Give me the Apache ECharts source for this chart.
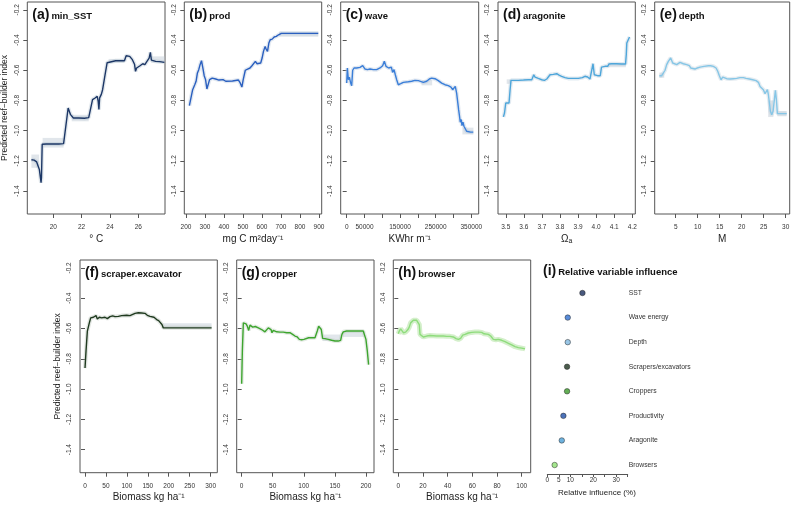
<!DOCTYPE html>
<html><head><meta charset="utf-8">
<script src="https://cdn.jsdelivr.net/npm/echarts@6/dist/echarts.min.js"></script>
<style>html,body{margin:0;padding:0;background:#fff}#c{width:793px;height:505px}</style>
</head><body><div id="c"></div>
<script>
// ---------------- DATA ----------------
const yTicks = [-1.4, -1.2, -1.0, -0.8, -0.6, -0.4, -0.2];

const sstTicks = [20, 22, 24, 26];
const prodTicks = [200, 300, 400, 500, 600, 700, 800, 900];
const waveTicks = [0, 50000, 100000, 150000, 200000, 250000, 300000, 350000];
const waveLabels = [0, 50000, 150000, 250000, 350000];
const aragTicks = [3.5, 3.6, 3.7, 3.8, 3.9, 4.0, 4.1, 4.2];
const depthTicks = [5, 10, 15, 20, 25, 30];
const scraperTicks = [0, 50, 100, 150, 200, 250, 300];
const cropperTicks = [0, 50, 100, 150, 200];
const browserTicks = [0, 20, 40, 60, 80, 100];
const influenceTicks = [0, 5, 10, 15, 20, 25, 30, 35];
const influenceLabels = [0, 5, 10, 20, 30];

const sstCurve = [[18.46,-1.193],[18.65,-1.195],[18.83,-1.207],[18.97,-1.213],[19.02,-1.257],[19.14,-1.345],[19.17,-1.31],[19.22,-1.09],[19.5,-1.088],[20.0,-1.088],[20.4,-1.088],[20.73,-1.086],[21.05,-0.85],[21.22,-0.894],[21.42,-0.916],[21.8,-0.916],[22.2,-0.918],[22.5,-0.914],[22.6,-0.905],[22.77,-0.795],[22.95,-0.784],[23.1,-0.773],[23.17,-0.806],[23.22,-0.86],[23.27,-0.783],[23.39,-0.76],[23.48,-0.729],[23.58,-0.718],[23.67,-0.62],[23.8,-0.55],[23.92,-0.537],[24.4,-0.537],[24.8,-0.537],[25.02,-0.537],[25.14,-0.504],[25.26,-0.493],[25.39,-0.508],[25.58,-0.53],[25.73,-0.56],[25.8,-0.607],[25.88,-0.585],[26.12,-0.57],[26.31,-0.557],[26.46,-0.563],[26.56,-0.548],[26.66,-0.548],[26.76,-0.52],[26.85,-0.482],[26.92,-0.533],[27.0,-0.537],[27.22,-0.541],[27.5,-0.543],[27.84,-0.548]];

const prodCurve = [[217.7,-0.834],[228,-0.823],[235,-0.729],[246,-0.696],[253,-0.673],[260,-0.618],[267,-0.596],[274,-0.563],[281.5,-0.537],[288.6,-0.585],[295.7,-0.636],[302.8,-0.662],[309.9,-0.724],[317,-0.711],[324,-0.662],[338,-0.652],[356,-0.658],[373.7,-0.665],[395,-0.662],[409,-0.673],[444.5,-0.671],[476,-0.665],[483.5,-0.68],[494,-0.711],[501,-0.662],[512,-0.6],[524,-0.592],[536.7,-0.585],[547,-0.57],[554,-0.557],[565,-0.541],[574,-0.557],[582.8,-0.563],[593,-0.552],[600.5,-0.519],[607.6,-0.475],[616.4,-0.442],[621.7,-0.46],[628.8,-0.475],[636,-0.42],[643,-0.398],[653.6,-0.394],[664,-0.38],[675,-0.376],[687,-0.365],[701.5,-0.356],[728,-0.356],[800,-0.356],[896,-0.356]];

const waveCurve = [[0,-0.685],[1900,-0.585],[4700,-0.663],[7500,-0.645],[11200,-0.685],[14000,-0.702],[16800,-0.6],[20600,-0.585],[28000,-0.585],[37400,-0.581],[45000,-0.57],[51500,-0.592],[58000,-0.596],[65500,-0.592],[74900,-0.596],[84200,-0.596],[93600,-0.585],[101000,-0.57],[105700,-0.541],[110400,-0.574],[114000,-0.57],[118000,-0.585],[121700,-0.596],[125400,-0.579],[129000,-0.614],[132900,-0.596],[136600,-0.63],[140400,-0.663],[145000,-0.696],[147900,-0.702],[151600,-0.689],[159100,-0.68],[173100,-0.676],[182500,-0.673],[191800,-0.667],[201200,-0.669],[215200,-0.68],[224600,-0.673],[232100,-0.658],[238600,-0.652],[248000,-0.656],[257300,-0.669],[266700,-0.685],[276000,-0.696],[285400,-0.702],[292900,-0.711],[297600,-0.729],[301300,-0.718],[305000,-0.707],[308800,-0.751],[311600,-0.806],[314400,-0.861],[316300,-0.894],[319100,-0.944],[321900,-0.927],[323800,-0.967],[326600,-0.944],[329400,-0.971],[332200,-0.982],[336900,-1.004],[341600,-1.01],[348100,-1.01],[355600,-1.01]];

const aragCurve = [[3.487,-0.909],[3.493,-0.883],[3.5,-0.817],[3.507,-0.817],[3.518,-0.817],[3.524,-0.729],[3.529,-0.667],[3.542,-0.667],[3.57,-0.667],[3.598,-0.665],[3.625,-0.663],[3.644,-0.663],[3.655,-0.63],[3.662,-0.645],[3.68,-0.654],[3.699,-0.663],[3.714,-0.667],[3.727,-0.658],[3.736,-0.645],[3.745,-0.63],[3.763,-0.627],[3.782,-0.623],[3.795,-0.632],[3.809,-0.64],[3.828,-0.649],[3.846,-0.654],[3.874,-0.654],[3.902,-0.654],[3.924,-0.649],[3.938,-0.64],[3.953,-0.645],[3.966,-0.658],[3.975,-0.663],[3.983,-0.557],[3.99,-0.63],[3.994,-0.636],[4.008,-0.636],[4.023,-0.636],[4.03,-0.579],[4.049,-0.574],[4.064,-0.574],[4.071,-0.559],[4.086,-0.557],[4.113,-0.557],[4.141,-0.559],[4.163,-0.559],[4.167,-0.497],[4.17,-0.42],[4.178,-0.409],[4.185,-0.38]];

const depthCurve = [[1.29,-0.636],[1.82,-0.636],[2.2,-0.636],[2.58,-0.6],[2.95,-0.563],[3.33,-0.541],[3.56,-0.541],[3.86,-0.519],[4.09,-0.53],[4.32,-0.552],[4.77,-0.552],[5.23,-0.563],[5.61,-0.574],[5.98,-0.548],[6.36,-0.548],[6.74,-0.557],[7.5,-0.563],[8.1,-0.57],[8.41,-0.585],[8.86,-0.596],[9.39,-0.592],[9.92,-0.585],[10.53,-0.579],[10.98,-0.585],[11.44,-0.574],[11.89,-0.579],[12.42,-0.57],[12.95,-0.57],[13.56,-0.574],[14.17,-0.585],[14.55,-0.607],[14.92,-0.636],[15.3,-0.663],[15.68,-0.645],[15.98,-0.658],[16.59,-0.656],[17.35,-0.658],[18.1,-0.656],[18.86,-0.654],[19.62,-0.649],[20.38,-0.649],[20.98,-0.654],[21.74,-0.658],[22.5,-0.663],[23.26,-0.669],[23.79,-0.68],[24.17,-0.707],[24.55,-0.711],[24.92,-0.729],[25.3,-0.755],[25.61,-0.745],[25.83,-0.729],[26.06,-0.762],[26.29,-0.817],[26.52,-0.872],[26.82,-0.894],[27.12,-0.872],[27.42,-0.795],[27.65,-0.733],[27.88,-0.795],[28.1,-0.887],[28.71,-0.887],[30.23,-0.887]];

const scraperCurve = [[0,-0.861],[2.4,-0.748],[5.6,-0.617],[8,-0.607],[10.3,-0.563],[13.5,-0.53],[16.7,-0.541],[19.9,-0.526],[23,-0.537],[26.3,-0.515],[29.4,-0.537],[34.2,-0.526],[39.8,-0.53],[47.7,-0.526],[53.3,-0.535],[59.7,-0.522],[66,-0.517],[71.6,-0.522],[79.6,-0.52],[87.5,-0.515],[99.5,-0.513],[107.4,-0.515],[111.4,-0.504],[119.4,-0.5],[127.3,-0.496],[135.3,-0.498],[143.2,-0.5],[148.8,-0.513],[155.2,-0.52],[159.2,-0.526],[164.7,-0.526],[171.1,-0.541],[175.9,-0.548],[180.6,-0.557],[183.8,-0.574],[187,-0.596],[195,-0.596],[250,-0.596],[302.4,-0.596]];

const cropperCurve = [[0,-0.965],[1.1,-0.748],[2.7,-0.563],[4.8,-0.557],[7,-0.57],[9.1,-0.585],[11.3,-0.613],[13.4,-0.578],[15.5,-0.574],[17.7,-0.591],[19.8,-0.578],[22,-0.587],[24.1,-0.585],[26.8,-0.596],[29.5,-0.6],[32.2,-0.607],[34.9,-0.611],[37.5,-0.622],[40.2,-0.617],[42.9,-0.596],[45,-0.585],[47.2,-0.607],[48.8,-0.628],[50.9,-0.613],[53.6,-0.617],[56.3,-0.622],[61.7,-0.624],[67,-0.624],[72.4,-0.628],[77.7,-0.628],[82,-0.639],[85.8,-0.65],[89.5,-0.656],[92.8,-0.672],[96.5,-0.674],[100.3,-0.672],[103.5,-0.665],[107.8,-0.661],[112.6,-0.661],[118,-0.661],[121.7,-0.617],[123.9,-0.585],[126,-0.578],[128.2,-0.607],[130.3,-0.665],[134,-0.667],[139.4,-0.672],[144.8,-0.678],[150.1,-0.683],[155.5,-0.683],[159.3,-0.678],[161.4,-0.639],[163.5,-0.622],[168.9,-0.617],[179.6,-0.617],[190.4,-0.617],[195.7,-0.617],[197.9,-0.622],[200,-0.672],[202.2,-0.748],[204.3,-0.839]];

const browserCurve = [[0,-0.635],[0.8,-0.617],[1.9,-0.602],[3,-0.607],[4.1,-0.628],[5.1,-0.639],[5.9,-0.624],[6.8,-0.628],[7.8,-0.607],[8.9,-0.591],[10,-0.563],[11.1,-0.552],[12.2,-0.546],[13.5,-0.548],[14.9,-0.546],[16.2,-0.552],[17,-0.574],[17.6,-0.639],[18.9,-0.65],[20.3,-0.656],[23,-0.65],[25.7,-0.646],[28.4,-0.648],[31.1,-0.65],[33.8,-0.65],[36.5,-0.65],[39.2,-0.652],[41.9,-0.652],[44.6,-0.656],[46.8,-0.667],[48.7,-0.672],[50.5,-0.665],[52.2,-0.644],[54.1,-0.639],[56.8,-0.63],[59.5,-0.626],[62.2,-0.624],[64.9,-0.624],[67.6,-0.626],[69.5,-0.635],[71.1,-0.63],[73,-0.639],[74.9,-0.65],[77,-0.672],[79.2,-0.674],[81.1,-0.672],[83.8,-0.678],[86.5,-0.687],[89.2,-0.698],[91.9,-0.709],[94.6,-0.72],[97.3,-0.726],[100,-0.73],[102.7,-0.735]];

// confidence bands: [xStart, xEnd, lower, upper]
const sstBands = [[18.46,19.0,-1.246,-1.158],[19.25,20.73,-1.112,-1.048],[21.3,22.5,-0.938,-0.895],[23.9,25.0,-0.55,-0.525],[26.9,27.84,-0.55,-0.508]];
const prodBands = [[690,896,-0.378,-0.343]];
const waveBands = [[210000,240000,-0.70,-0.665],[325000,356000,-1.025,-0.98]];
const aragBands = [[3.505,3.53,-0.69,-0.66],[4.065,4.165,-0.58,-0.555]];
const depthBands = [[1.29,2.4,-0.65,-0.615],[26.0,27.2,-0.91,-0.80],[28.1,30.2,-0.905,-0.87]];
const scraperBands = [[187,302.4,-0.596,-0.566]];
const cropperBands = [[130,160,-0.683,-0.64],[163,198,-0.656,-0.617]];
const browserBands = [];

const influenceNames = ['SST','Wave energy','Depth','Scrapers/excavators','Croppers','Productivity','Aragonite','Browsers'];
const influenceValues = [15.3, 8.9, 8.9, 8.6, 8.6, 7.0, 6.3, 3.2];

// ---------------- STYLE / LAYOUT ----------------
const dotColors = ['#1b2f5e','#2f6fd0','#7fb8e0','#1e3320','#3c9a2a','#1f4fa8','#4a9fd6','#8de070'];
const FONT = 'Liberation Sans, Arial, Helvetica, sans-serif';
const BOX = '#555';
const TXT = '#333';

const panels = [
  {letter:'(a)', title:'min_SST', curve:sstCurve, bands:sstBands, min:18.17, max:27.88, ticks:sstTicks, xName:'° C', color:'#1d3766', under:'rgba(170,185,200,0.35)', grid:{left:27.3, top:2, width:137.7, height:212}, yName:true},
  {letter:'(b)', title:'prod', curve:prodCurve, bands:prodBands, min:191, max:914, ticks:prodTicks, xName:'mg C m²day⁻¹', color:'#2a5fbf', under:'rgba(170,190,215,0.35)', grid:{left:184.3, top:2, width:137.4, height:212}},
  {letter:'(c)', title:'wave', curve:waveCurve, bands:waveBands, min:-16850, max:370800, ticks:waveTicks, labels:waveLabels, xName:'KWhr m⁻¹', color:'#3a7ed8', under:'rgba(170,190,215,0.35)', grid:{left:340.7, top:2, width:138, height:212}},
  {letter:'(d)', title:'aragonite', curve:aragCurve, bands:aragBands, min:3.457, max:4.217, ticks:aragTicks, fmt:v=>v.toFixed(1), xName:'Ωₐ', color:'#4ea6da', under:'rgba(170,195,215,0.35)', grid:{left:498, top:2, width:137.3, height:212}},
  {letter:'(e)', title:'depth', curve:depthCurve, bands:depthBands, min:0.23, max:30.9, ticks:depthTicks, xName:'M', color:'#86c6e6', under:'rgba(180,200,215,0.35)', grid:{left:654.7, top:2, width:135, height:212}},
  {letter:'(f)', title:'scraper.excavator', curve:scraperCurve, bands:scraperBands, min:-12, max:316, ticks:scraperTicks, xName:'Biomass kg ha⁻¹', color:'#1f3a1f', under:'rgba(170,180,170,0.35)', grid:{left:80, top:260, width:137.3, height:212.7}, yName:true},
  {letter:'(g)', title:'cropper', curve:cropperCurve, bands:cropperBands, min:-8, max:213, ticks:cropperTicks, xName:'Biomass kg ha⁻¹', color:'#3ea52f', under:'rgba(180,200,180,0.35)', grid:{left:236.7, top:260, width:137.3, height:212.7}},
  {letter:'(h)', title:'browser', curve:browserCurve, bands:browserBands, min:-4.05, max:107.3, ticks:browserTicks, xName:'Biomass kg ha⁻¹', color:'#8edc7c', under:'rgba(160,220,140,0.45)', underW:5, grid:{left:393.3, top:260, width:137.4, height:212.7}}
];

const grids = [], xAxes = [], yAxes = [], series = [], titles = [];

panels.forEach((p, i) => {
  grids.push(Object.assign({show:true, borderColor:BOX, borderWidth:1, backgroundColor:'transparent', containLabel:false, outerBoundsMode:'none'}, p.grid));
  xAxes.push({
    gridIndex:i, type:'value', min:p.min, max:p.max,
    axisLine:{show:false}, splitLine:{show:false},
    axisTick:{show:true, length:4, customValues:p.ticks, lineStyle:{color:BOX, width:1}},
    axisLabel:{show:true, customValues:p.labels || p.ticks, fontSize:6.5, color:TXT, margin:10, fontFamily:FONT,
      formatter: p.fmt || (v => String(v))},
    name:p.xName, nameLocation:'middle', nameGap:20,
    nameTextStyle:{fontSize:10, color:'#222', fontFamily:FONT}
  });
  yAxes.push({
    gridIndex:i, type:'value', min:-1.552, max:-0.148,
    axisLine:{show:false}, splitLine:{show:false},
    axisTick:{show:true, length:4, customValues:yTicks, lineStyle:{color:BOX, width:1}},
    axisLabel:{show:true, customValues:yTicks, rotate:90, fontSize:6.5, color:TXT, margin:7, fontFamily:FONT,
      formatter:v => v.toFixed(1)},
    name:p.yName ? 'Predicted reef\u2212builder index' : '', nameLocation:'middle', nameGap:18, nameRotate:90,
    nameTextStyle:{fontSize:8.5, color:'#222', fontFamily:FONT}
  });
  series.push({
    type:'custom', xAxisIndex:i, yAxisIndex:i, data:p.bands, silent:true, z:1,
    encode:{x:[0,1], y:[2,3]},
    renderItem:(params, api) => {
      const a = api.coord([api.value(0), api.value(3)]);
      const b = api.coord([api.value(1), api.value(2)]);
      return {type:'rect', shape:{x:a[0], y:Math.min(a[1],b[1]), width:b[0]-a[0], height:Math.abs(b[1]-a[1])},
        style:{fill:'rgba(200,210,218,0.55)'}};
    }
  });
  series.push({type:'line', xAxisIndex:i, yAxisIndex:i, data:p.curve, symbol:'none', showSymbol:false, silent:true, z:2,
    lineStyle:{color:p.under, width:p.underW || 4}});
  series.push({type:'line', xAxisIndex:i, yAxisIndex:i, data:p.curve, symbol:'none', showSymbol:false, silent:true, z:3,
    lineStyle:{color:p.color, width:1.4}});
  titles.push({
    text:'{l|' + p.letter + '}{n|' + p.title + '}', left:p.grid.left + 5, top:p.grid.top + 4, padding:0,
    textStyle:{rich:{
      l:{fontSize:14, fontWeight:'bold', color:'#111', fontFamily:FONT, verticalAlign:'bottom', lineHeight:16},
      n:{fontSize:9.5, fontWeight:'bold', color:'#111', fontFamily:FONT, verticalAlign:'bottom', lineHeight:16, padding:[0,0,1,2]}
    }}
  });
});

// panel (i) dot chart
const gi = panels.length;
grids.push({left:547.3, top:293, width:80.4, height:172, show:false, containLabel:false, outerBoundsMode:'none'});
xAxes.push({
  gridIndex:gi, type:'value', min:0, max:35, offset:9,
  axisLine:{show:true, lineStyle:{color:BOX, width:1}}, splitLine:{show:false},
  axisTick:{show:true, length:3, customValues:influenceTicks, lineStyle:{color:BOX}},
  axisLabel:{customValues:influenceLabels, fontSize:6.5, color:TXT, margin:3, fontFamily:FONT}
});
yAxes.push({
  gridIndex:gi, type:'category', data:influenceNames, inverse:true, boundaryGap:false, position:'right',
  axisLine:{show:false}, axisTick:{show:false}, splitLine:{show:false},
  axisLabel:{fontSize:6.8, color:TXT, margin:1, align:'left', fontFamily:FONT}
});
series.push({
  type:'scatter', xAxisIndex:gi, yAxisIndex:gi, symbolSize:5.5, silent:true, z:3,
  itemStyle:{borderColor:'#222', borderWidth:0.6},
  data:influenceValues.map((v, k) => ({value:[v, influenceNames[k]], itemStyle:{color:dotColors[k]}}))
});
titles.push({
  text:'{l|(i)}{n|Relative variable influence}', left:543, top:262, padding:0,
  textStyle:{rich:{
    l:{fontSize:14, fontWeight:'bold', color:'#111', fontFamily:FONT, verticalAlign:'bottom', lineHeight:16},
    n:{fontSize:9.5, fontWeight:'bold', color:'#111', fontFamily:FONT, verticalAlign:'bottom', lineHeight:16, padding:[0,0,1,2]}
  }}
});

const chart = echarts.init(document.getElementById('c'), null, {renderer:'canvas'});
chart.setOption({
  animation:false,
  backgroundColor:'#fff',
  textStyle:{fontFamily:FONT},
  title:titles,
  grid:grids, xAxis:xAxes, yAxis:yAxes, series:series,
  graphic:[{type:'text', left:558, top:489, style:{text:'Relative influence (%)', font:'8px ' + FONT, fill:'#222'}}]
});
</script></body></html>
